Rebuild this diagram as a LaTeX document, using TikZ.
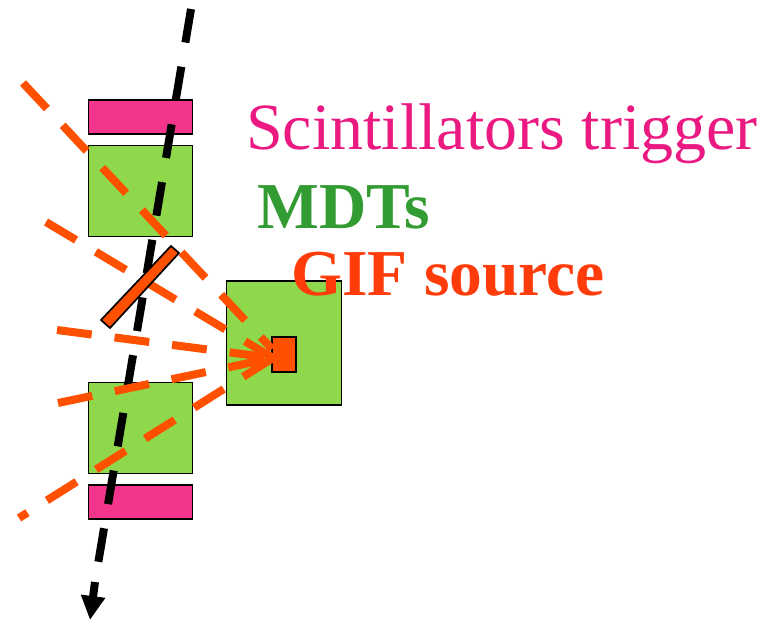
\documentclass[tikz,border=0pt]{standalone}
\usepackage{fontspec}
\setmainfont{Liberation Serif}
\usetikzlibrary{arrows.meta}
\definecolor{pinkbar}{RGB}{243,54,140}
\definecolor{mdtgreen}{RGB}{143,216,75}
\definecolor{srcorange}{RGB}{255,80,0}
\definecolor{txtpink}{RGB}{235,25,130}
\definecolor{txtgreen}{RGB}{50,155,50}
\definecolor{txtred}{RGB}{255,60,10}
\tikzset{x=1pt,y=-1pt,
 box/.style={draw=black,line width=1.7pt,inner sep=0pt,outer sep=0pt,anchor=north west},
 ray/.style={draw=srcorange,line width=8pt,dash pattern=on 35pt off 23pt},
 beam/.style={draw=black,line width=8pt,dash pattern=on 34pt off 24.5pt},
 lab/.style={inner sep=0pt,anchor=base west,font=\fontsize{65.5}{68}\selectfont}}
\begin{document}
\begin{tikzpicture}
\useasboundingbox (0,0) rectangle (773,618);
\node[box,fill=pinkbar,minimum width=104pt,minimum height=34pt] (p1) at (88.5,100) {};
\node[box,fill=mdtgreen,minimum width=104pt,minimum height=91pt] (m1) at (88.5,145.5) {};
\node[box,fill=mdtgreen,minimum width=115pt,minimum height=124pt] (m3) at (226.5,281) {};
\node[box,fill=mdtgreen,minimum width=104pt,minimum height=91pt] (m2) at (88.5,382.5) {};
\node[box,fill=pinkbar,minimum width=104pt,minimum height=34pt] (p2) at (88.5,485) {};
\node[box,fill=srcorange,minimum width=24pt,minimum height=35pt] (src) at (272,337) {};
\node[lab,text=txtred,font=\fontsize{65.5}{68}\selectfont\bfseries] (t3n) at (291,295) {GIF source};
\coordinate (bs) at (191,9);\coordinate (bm) at (95,582);\coordinate (be) at (90,620);
\draw[beam] (bs)--(bm);
\draw[-{Stealth[length=24pt,width=23pt,inset=0pt]},black,line width=8pt] (bm)--(be);
\coordinate (r1) at (23,83);\coordinate (r2) at (46,222);\coordinate (r3) at (57,330);\coordinate (r4) at (58,403);\coordinate (r5) at (19,518);
\coordinate (t) at (273,358);\coordinate (t1) at (272,349);
\draw[ray] (r1)--(t1);
\draw[ray] (r2)--(t);
\draw[ray] (r3)--(t);
\draw[ray] (r4)--(t);
\draw[ray,dash phase=25pt] (r5)--(t);
\coordinate (a) at (179,253);\coordinate (b) at (171,246);\coordinate (c) at (101,320);\coordinate (d) at (110,328);
\filldraw[fill=srcorange,draw=black,line width=1.7pt] (a)--(b)--(c)--(d)--cycle;
\node[lab,text=txtpink,font=\fontsize{66}{68}\selectfont] (t1n) at (246,149) {Scintillators trigger};
\node[lab,text=txtgreen,font=\fontsize{65.5}{68}\selectfont\bfseries] (t2n) at (257,228) {MDTs};
\end{tikzpicture}
\end{document}
